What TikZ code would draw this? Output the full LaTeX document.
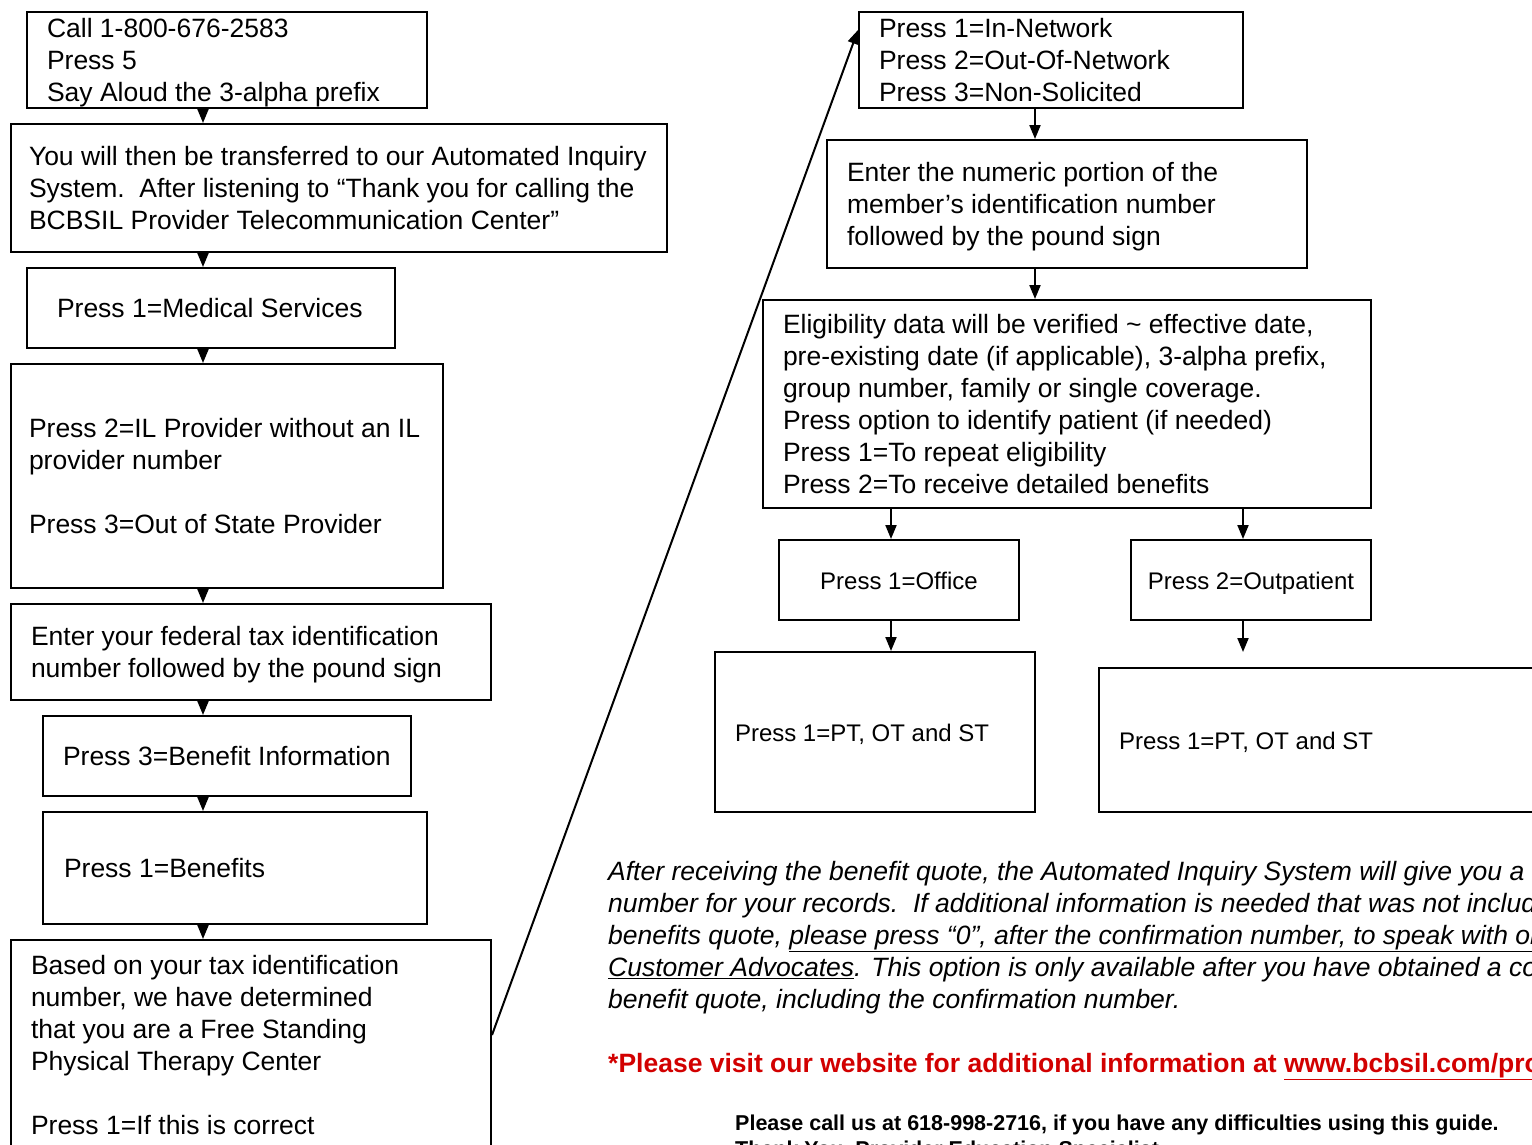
\documentclass[tikz,border=0pt]{standalone}
\usepackage{fontspec}
\setmainfont{Liberation Sans}
\usepackage{xcolor}
\usepackage{tikz}
\usetikzlibrary{arrows.meta}
\definecolor{webred}{RGB}{210,0,0}
\newcommand{\BoxFont}{\fontsize{26.5}{32}\selectfont}
\newcommand{\SmallFont}{\fontsize{24}{29}\selectfont}
\newcommand{\NoteFont}{\fontsize{21.5}{26}\selectfont}

\begin{document}
\begin{tikzpicture}[
x=1pt, y=-1pt,
MyBox/.style={draw,line width=2pt,align=flush left,inner ysep=0pt,font=\BoxFont,
  execute at begin node={\rule{0pt}{25.5pt}},execute at end node={\rule[-6pt]{0pt}{0pt}}},
Flow/.style={-{Triangle[length=14pt, width=11pt]},line width=2pt},
Note/.style={inner sep=0pt,anchor=north west,align=left}
]
\path[use as bounding box,fill=white] (0,0) rectangle (1532,1144);
\clip (0,0) rectangle (1532,1144);

% left column of boxes
\node[MyBox,inner xsep=20pt,text width=360pt,minimum height=96pt] (A) at (227,60)
{Call 1-800-676-2583\\Press 5\\Say Aloud the 3-alpha prefix};
\node[MyBox,inner xsep=18pt,text width=620pt,minimum height=128pt] (B) at (339,188)
{You will then be transferred to our Automated Inquiry\\System.\ \ After listening to “Thank you for calling the\\BCBSIL Provider Telecommunication Center”};
\node[MyBox,inner xsep=30pt,text width=308pt,minimum height=80pt] (C) at (211,308)
{Press 1=Medical Services};
\node[MyBox,inner xsep=18pt,text width=396pt,minimum height=224pt] (D) at (227,476)
{Press 2=IL Provider without an IL\\provider number\\[32pt]Press 3=Out of State Provider};
\node[MyBox,inner xsep=20pt,text width=440pt,minimum height=96pt] (E) at (251,652)
{Enter your federal tax identification\\number followed by the pound sign};
\node[MyBox,inner xsep=20pt,text width=328pt,minimum height=80pt] (F) at (227,756)
{Press 3=Benefit Information};
\node[MyBox,inner xsep=21pt,text width=342pt,minimum height=112pt] (G) at (235,868)
{Press 1=Benefits};
\node[MyBox,inner xsep=20pt,text width=440pt,minimum height=210pt] (H) at (251,1045)
{Based on your tax identification\\number, we have determined\\that you are a Free Standing\\Physical Therapy Center\\[32pt]Press 1=If this is correct};

% right column of boxes
\node[MyBox,inner xsep=20pt,text width=344pt,minimum height=96pt] (K) at (1051,60)
{Press 1=In-Network\\Press 2=Out-Of-Network\\Press 3=Non-Solicited};
\node[MyBox,inner xsep=20pt,text width=440pt,minimum height=128pt] (L) at (1067,204)
{Enter the numeric portion of the\\member’s identification number\\followed by the pound sign};
\node[MyBox,inner xsep=20pt,text width=568pt,minimum height=208pt] (M) at (1067,404)
{Eligibility data will be verified \textasciitilde{} effective date,\\pre-existing date (if applicable), 3-alpha prefix,\\group number, family or single coverage.\\Press option to identify patient (if needed)\\Press 1=To repeat eligibility\\Press 2=To receive detailed benefits};
\node[MyBox,align=flush center,font=\SmallFont,inner xsep=10pt,text width=220pt,minimum height=80pt] (N) at (899,580)
{Press 1=Office};
\node[MyBox,align=flush center,font=\SmallFont,inner xsep=10pt,text width=220pt,minimum height=80pt] (O) at (1251,580)
{Press 2=Outpatient};
\node[MyBox,font=\SmallFont,inner xsep=20pt,text width=280pt,minimum height=160pt] (P) at (875,732)
{Press 1=PT, OT and ST};
\node[MyBox,font=\SmallFont,inner xsep=20pt,text width=440pt,minimum height=144pt] (Q) at (1339,740)
{Press 1=PT, OT and ST};

% columns the arrows run along
\coordinate (X) at (203,0);
\coordinate (Y) at (1035,0);
\coordinate (U) at (891,0);
\coordinate (V) at (1243,0);
\coordinate (R) at (1243,652);

\draw[Flow] (A.south -| X) -- (B.north -| X);
\draw[Flow] (B.south -| X) -- (C.north -| X);
\draw[Flow] (C.south -| X) -- (D.north -| X);
\draw[Flow] (D.south -| X) -- (E.north -| X);
\draw[Flow] (E.south -| X) -- (F.north -| X);
\draw[Flow] (F.south -| X) -- (G.north -| X);
\draw[Flow] (G.south -| X) -- (H.north -| X);

\draw[Flow] ([yshift=10pt]H.east) -- ([yshift=30pt]K.west);

\draw[Flow] (K.south -| Y) -- (L.north -| Y);
\draw[Flow] (L.south -| Y) -- (M.north -| Y);
\draw[Flow] (M.south -| U) -- (N.north -| U);
\draw[Flow] (M.south -| V) -- (O.north -| V);
\draw[Flow] (N.south -| U) -- (P.north -| U);
\draw[Flow] (O.south -| V) -- (R);

% notes under the right column
\node[Note,font=\BoxFont\itshape] (T) at (608,861)
{After receiving the benefit quote, the Automated Inquiry System will give you a confirmation\\number for your records.\ \ If additional information is needed that was not included in the\\benefits quote, \underline{please press “0”, after the confirmation number, to speak with one of our}\\\underline{Customer Advocates}. This option is only available after you have obtained a complete\\benefit quote, including the confirmation number.};
\node[Note,anchor=base west,font=\BoxFont\bfseries,text=webred] (W) at (608,1072)
{*Please visit our website for additional information at \underline{www.bcbsil.com/provider}};
\node[Note,font=\NoteFont\bfseries] (Z) at (735,1115)
{Please call us at 618-998-2716, if you have any difficulties using this guide.\\Thank You, Provider Education Specialist};

\end{tikzpicture}
\end{document}
